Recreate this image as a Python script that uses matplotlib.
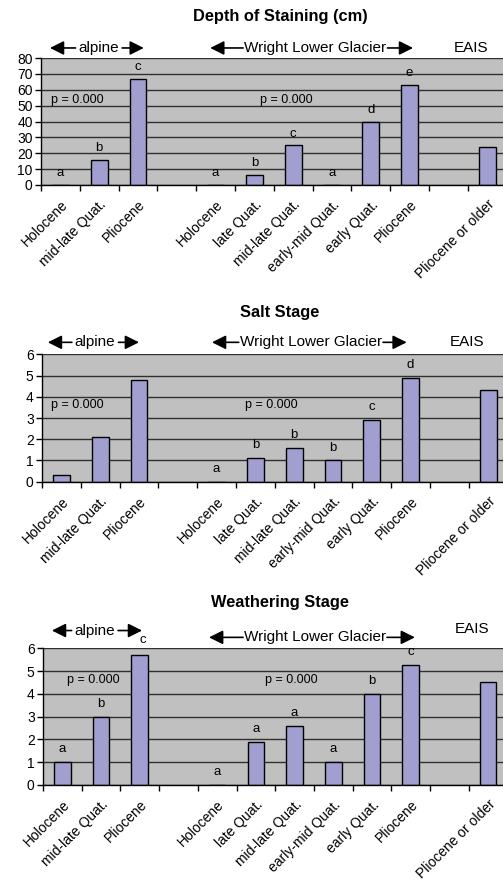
import matplotlib
matplotlib.use("Agg")
import matplotlib.pyplot as plt
import matplotlib.transforms as mtransforms
import numpy as np

plt.rcParams['font.family'] = ['Liberation Sans', 'DejaVu Sans']

categories = ["Holocene", "mid-late Quat.", "Pliocene", "",
              "Holocene", "late Quat.", "mid-late Quat.", "early-mid Quat.",
              "early Quat.", "Pliocene", "", "Pliocene or older"]

depth_values = [0, 16, 67, None, 0, 6.5, 25, 0, 40, 63, None, 24]
depth_letters = ["a", "b", "c", "", "a", "b", "c", "a", "d", "e", "", ""]

salt_values = [0.3, 2.1, 4.8, None, 0, 1.1, 1.6, 1.0, 2.9, 4.9, None, 4.3]
salt_letters = ["", "", "", "", "a", "b", "b", "b", "c", "d", "", ""]

weath_values = [1.0, 3.0, 5.7, None, 0, 1.9, 2.6, 1.0, 4.0, 5.25, None, 4.5]
weath_letters = ["a", "b", "", "", "a", "a", "a", "a", "b", "c", "", ""]

titles = ["Depth of Staining (cm)", "Salt Stage", "Weathering Stage"]
p_text = "p = 0.000"

BAR = "#a09fd0"
BG = "#c0c0c0"

W, H = 503, 882
fig = plt.figure(figsize=(W / 100, H / 100), dpi=100)


def px_axes(left, top, bottom, slot):
    width = 12 * slot
    return fig.add_axes([left / W, 1 - bottom / H, width / W, (bottom - top) / H])


def panel(ax, values, letters, ymax, ystep, title, title_y, pxy, groups, letter_off=4):
    x = np.arange(len(categories))
    xs = [i for i, v in zip(x, values) if v is not None]
    vs = [v for v in values if v is not None]
    ax.set_facecolor(BG)
    ax.bar(xs, vs, width=0.43, color=BAR, edgecolor="black", linewidth=1.0, zorder=3)
    ax.set_xlim(-0.5, 11.5)
    ax.set_ylim(0, ymax)
    ax.set_yticks(np.arange(0, ymax + ystep / 2, ystep))
    ax.yaxis.grid(True, color="#303030", linewidth=1.0, zorder=1)
    ax.set_axisbelow(True)
    ax.set_xticks(x)
    ax.set_xticklabels(categories, rotation=45, ha="right", va="top",
                       rotation_mode="anchor", fontsize=10)
    off = mtransforms.ScaledTranslation(-5 / 100, 2 / 100, fig.dpi_scale_trans)
    for lab in ax.get_xticklabels():
        lab.set_transform(lab.get_transform() + off)
    ax.set_xticks(np.arange(-0.5, 12, 1), minor=True)
    ax.tick_params(axis="x", which="major", length=0, pad=9)
    ax.tick_params(axis="x", which="minor", length=4, width=1, direction="out")
    ax.tick_params(axis="y", length=4, width=1, labelsize=10, pad=2)
    for s in ["top", "right"]:
        ax.spines[s].set_visible(False)
    for s in ["left", "bottom"]:
        ax.spines[s].set_linewidth(1.0)
        ax.spines[s].set_color("black")
    ax.spines["bottom"].set_zorder(4)
    for xi, v, l in zip(x, values, letters):
        if l and v is not None:
            ax.annotate(l, (xi, v), xytext=(0, letter_off), textcoords="offset points",
                        ha="center", va="bottom", fontsize=9.5, zorder=5)
    for (px_, py_) in pxy:
        ax.text(px_, py_, p_text, transform=ax.get_xaxis_transform(),
                ha="center", va="center", fontsize=9, zorder=5)
    fig.text(280 / W, title_y, title, ha="center", va="center",
             fontsize=11.8, fontweight="bold")
    for g in groups:
        name, cx, gy, half, ltip, rtip = g
        tr = ax.get_xaxis_transform()
        ax.text(cx, gy, name, transform=tr, ha="center", va="center",
                fontsize=11, clip_on=False)
        if ltip is not None:
            for start, tip in ((cx - half, ltip), (cx + half, rtip)):
                ax.annotate("", xy=(tip, gy), xytext=(start, gy), xycoords=tr,
                            textcoords=tr,
                            arrowprops=dict(arrowstyle="-|>,head_length=0.6,head_width=0.3",
                                            color="black", lw=1.2,
                                            mutation_scale=14, shrinkA=0, shrinkB=0))


ax1 = px_axes(41, 58, 185, 38.8)
panel(ax1, depth_values, depth_letters, 80, 10, titles[0], 1 - 16 / H,
      [(0.44, 0.669), (5.81, 0.669)],
      [("alpine", 0.99, 1.079, 0.6, -0.27, 2.15),
       ("Wright Lower Glacier", 6.57, 1.079, 1.86, 3.86, 9.09),
       ("EAIS", 10.58, 1.079, 0, None, None)])

ax2 = px_axes(42, 354.3, 481.7, 38.8)
panel(ax2, salt_values, salt_letters, 6, 1, titles[1], 1 - 312 / H,
      [(0.40, 0.602), (5.40, 0.602)],
      [("alpine", 0.87, 1.094, 0.6, -0.35, 2.0),
       ("Wright Lower Glacier", 6.43, 1.094, 1.86, 3.88, 8.9),
       ("EAIS", 10.45, 1.094, 0, None, None)], letter_off=5)

ax3 = px_axes(43, 648.3, 785, 38.7)
panel(ax3, weath_values, weath_letters, 6, 1, titles[2], 1 - 603 / H,
      [(0.80, 0.768), (5.91, 0.768)],
      [("alpine", 0.84, 1.13, 0.6, -0.27, 2.06),
       ("Wright Lower Glacier", 6.53, 1.08, 1.86, 3.79, 9.11),
       ("EAIS", 10.58, 1.14, 0, None, None)], letter_off=5)
ax3.text(2.08, 1.06, "c", transform=ax3.get_xaxis_transform(), ha="center",
         va="center", fontsize=9.5)

fig.savefig("out.png", dpi=100)
